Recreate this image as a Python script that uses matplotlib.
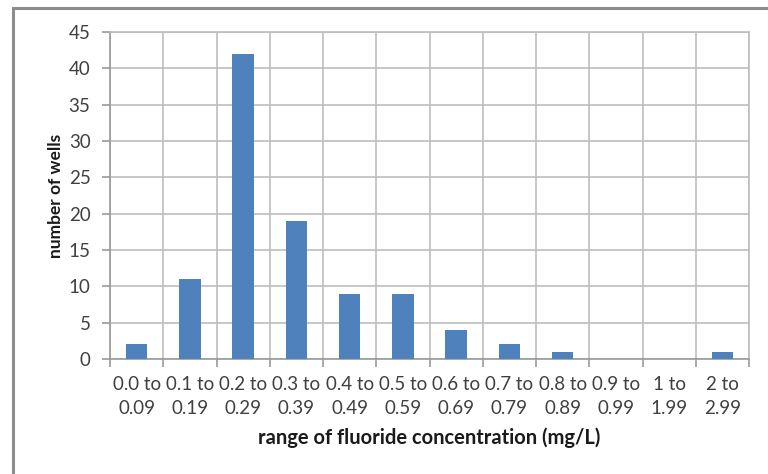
import matplotlib
matplotlib.use("Agg")
import matplotlib.pyplot as plt
from matplotlib.patches import Rectangle
import numpy as np

categories = ["0.0 to\n0.09", "0.1 to\n0.19", "0.2 to\n0.29", "0.3 to\n0.39",
              "0.4 to\n0.49", "0.5 to\n0.59", "0.6 to\n0.69", "0.7 to\n0.79",
              "0.8 to\n0.89", "0.9 to\n0.99", "1 to\n1.99", "2 to\n2.99"]
wells = [2, 11, 42, 19, 9, 9, 4, 2, 1, 0, 0, 1]
y_ticks = [0, 5, 10, 15, 20, 25, 30, 35, 40, 45]

plt.rcParams['font.family'] = ['Lato', 'DejaVu Sans']

fig = plt.figure(figsize=(7.68, 4.74), dpi=100)
ax = fig.add_axes([110/768, 1 - 359/474, 639/768, 327/474])

# outer chart frame
fig.patches.append(Rectangle((13/768, -0.05), 1.0, 1 - 8/474 + 0.05,
                             transform=fig.transFigure, fill=False,
                             edgecolor='#8c8c8c', linewidth=2.2))

x = np.arange(len(categories))
ax.bar(x, wells, width=0.4, color='#4f81bd', zorder=3)

ax.set_xlim(-0.5, len(categories) - 0.5)
ax.set_ylim(0, 45)
ax.set_yticks(y_ticks)
ax.set_yticklabels([str(v) for v in y_ticks])

# category labels centred, tick marks on category boundaries
ax.set_xticks(x)
ax.set_xticklabels(categories, linespacing=1.45)
ax.set_xticks(np.arange(-0.5, len(categories)), minor=True)
ax.tick_params(axis='x', which='major', length=0, pad=12.5, labelsize=13.5,
               labelcolor='#404040')
ax.tick_params(axis='x', which='minor', length=6, width=1.2, color='#9a9a9a')
ax.tick_params(axis='y', length=6, width=1.2, color='#9a9a9a', pad=8,
               labelsize=13.5, labelcolor='#404040')

ax.grid(True, axis='y', which='major', color='#bdbdbd', linewidth=1.2, zorder=0)
ax.grid(True, axis='x', which='minor', color='#bdbdbd', linewidth=1.2, zorder=0)
ax.grid(False, axis='x', which='major')

for side in ['top', 'right']:
    ax.spines[side].set_color('#bdbdbd')
    ax.spines[side].set_linewidth(1.2)
for side in ['left', 'bottom']:
    ax.spines[side].set_color('#9a9a9a')
    ax.spines[side].set_linewidth(1.2)

ax.set_ylabel("number of wells", fontsize=12.5, fontweight='bold', color='#1a1a1a',
              labelpad=3)
ax.set_xlabel("range of fluoride concentration (mg/L)", fontsize=14.5,
              fontweight='bold', color='#1a1a1a', labelpad=8)

fig.savefig("out.png", dpi=100)
